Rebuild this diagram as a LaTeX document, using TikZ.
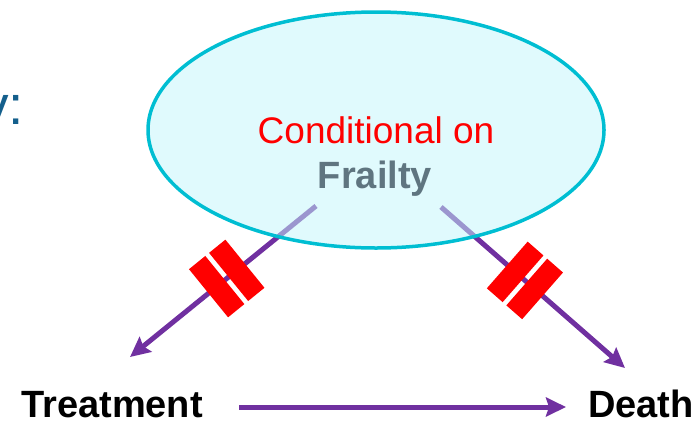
\documentclass[tikz,border=0pt]{standalone}
\usepackage{fontspec}
\setmainfont{Liberation Sans}
\usetikzlibrary{arrows.meta,calc}
\definecolor{arrowpurple}{RGB}{112,48,160}
\definecolor{ellfill}{RGB}{195,245,251}
\definecolor{ellborder}{RGB}{0,190,210}
\definecolor{frailgray}{RGB}{95,117,128}
\definecolor{headblue}{RGB}{20,95,140}
\definecolor{breakred}{RGB}{255,0,0}
\tikzset{
  conn/.style={draw=arrowpurple, line width=5pt, -{Stealth[length=20pt,width=19pt,inset=3pt]}},
  breakbox/.style={fill=breakred, draw=none, minimum width=21pt, minimum height=62pt, inner sep=0pt, sloped},
  lbl/.style={font=\fontsize{38}{44}\selectfont\bfseries, text=black, inner sep=0pt, anchor=base},
}
\begin{document}
\begin{tikzpicture}[x=1pt,y=-1pt]
\useasboundingbox (0,0) rectangle (700,424);
% heading fragment (cut at the left edge, as in the reference)
\node[font=\fontsize{55}{60}\selectfont, text=headblue, inner sep=0pt, anchor=base east] (head) at (24,124) {y:};
% coordinates
\coordinate (fl) at (316,206);
\coordinate (tl) at (130,357);
\coordinate (fr) at (441,207);
\coordinate (tr) at (625,368);
\coordinate (hs) at (239,407);
\coordinate (he) at (566,407);
% arrows
\draw[conn] (fl) -- (tl);
\draw[conn] (fr) -- (tr);
\draw[conn] (hs) -- (he);
% ellipse
\path[fill=ellfill, fill opacity=0.52] (376,130) ellipse [x radius=228, y radius=118];
\draw[ellborder, line width=3.5pt] (376,130) ellipse [x radius=228, y radius=118];
% break marks
\path (fl) -- (tl) node[breakbox, pos=0.426] (b1) {} node[breakbox, pos=0.534] (b2) {};
\path (fr) -- (tr) node[breakbox, pos=0.403] (b3) {} node[breakbox, pos=0.509] (b4) {};
% texts
\node[font=\fontsize{37}{44}\selectfont, text=breakred, inner sep=0pt, anchor=base] (cond) at (376,143) {Conditional on};
\node[lbl, text=frailgray] (frl) at (375,188) {Frailty};
\node[lbl] (treat) at (112,417) {Treatment};
\node[lbl] (death) at (641,417) {Death};
\end{tikzpicture}
\end{document}
